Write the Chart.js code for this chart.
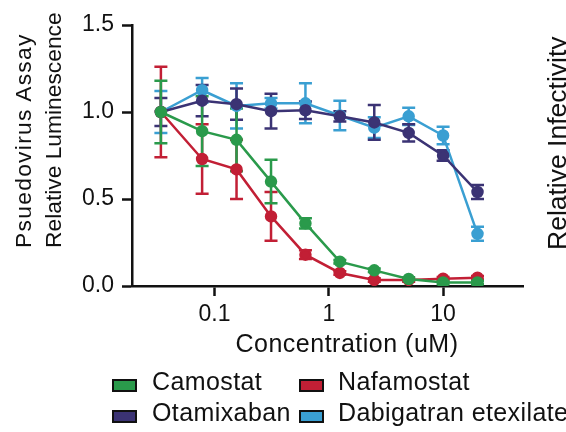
<!DOCTYPE html>
<html>
<head>
<meta charset="utf-8">
<script src="https://cdn.jsdelivr.net/npm/chart.js@4.4.0/dist/chart.umd.min.js"></script>
<style>
  html, body { margin: 0; padding: 0; background: #fff; overflow: hidden; }
  #wrap { position: relative; width: 566px; height: 432px; overflow: hidden; font-family: "Liberation Sans", Arial, sans-serif; color: #111; }
  #myChart { position: absolute; left: 0; top: 0; }
  .txt { position: absolute; white-space: nowrap; }
  .legText { font-size: 25px; line-height: 25px; letter-spacing: 0.4px; }
  .box { position: absolute; width: 25px; height: 13px; box-sizing: border-box; border: 2.5px solid #111; }
  .rot { transform-origin: 0 0; transform: rotate(-90deg); }
  #ytitle { left: 8px; top: 248px; font-size: 22.8px; line-height: 30px; }
  #ytitle .l1 { letter-spacing: 1.3px; }
  #xtitle { left: 347px; top: 328px; font-size: 25px; line-height: 30px; letter-spacing: 0.5px; transform: translateX(-50%); }
  #side { left: 542px; top: 250px; font-size: 26.5px; line-height: 30px; }
</style>
</head>
<body>
<div id="wrap">
  <canvas id="myChart" width="566" height="432"></canvas>
  <div id="ytitle" class="txt rot"><span class="l1">Psuedovirus Assay</span><br>Relative Luminescence</div>
  <div id="xtitle" class="txt">Concentration (uM)</div>
  <div id="side" class="txt rot">Relative Infectivity</div>
</div>
<script>
// concentrations in uM
var concentrations = [0.034, 0.078, 0.156, 0.3125, 0.625, 1.25, 2.5, 5, 10, 20];

var camostat      = [1.00, 0.89, 0.84, 0.60, 0.36, 0.14, 0.09, 0.04, 0.02, 0.02];
var camostatErr   = [0.18, 0.20, 0.18, 0.125, 0.03, 0.01, 0.01, 0.01, 0.01, 0.01];
var nafamostat    = [1.00, 0.73, 0.67, 0.40, 0.18, 0.075, 0.035, 0.035, 0.042, 0.048];
var nafamostatErr = [0.26, 0.20, 0.17, 0.14, 0.025, 0.01, 0.01, 0.01, 0.01, 0.01];
var otamixaban    = [1.00, 1.065, 1.045, 1.005, 1.01, 0.975, 0.94, 0.88, 0.75, 0.54];
var otamixabanErr = [0.08, 0.09, 0.09, 0.10, 0.05, 0.03, 0.10, 0.05, 0.03, 0.04];
var dabigatran    = [1.00, 1.125, 1.035, 1.05, 1.05, 0.98, 0.91, 0.975, 0.865, 0.30];
var dabigatranErr = [0.12, 0.07, 0.13, 0.03, 0.115, 0.085, 0.06, 0.05, 0.05, 0.04];

var xTicks = [0.1, 1, 10];
var yTicks = [0, 0.5, 1.0, 1.5];

var names  = ["Camostat", "Nafamostat", "Otamixaban", "Dabigatran etexilate"];
var colors = ["#2a9a4b", "#c21f35", "#3b3374", "#3a9fd2"];

function pts(vals) {
	var out = [];
	for (var i = 0; i < concentrations.length; i++) {
		out.push({ x: concentrations[i], y: vals[i] });
	}
	return out;
}

var seriesVals = [camostat, nafamostat, otamixaban, dabigatran];
var seriesErr  = [camostatErr, nafamostatErr, otamixabanErr, dabigatranErr];

var datasets = [];
for (var s = 0; s < names.length; s++) {
	datasets.push({
		label: names[s],
		data: pts(seriesVals[s]),
		errors: seriesErr[s],
		borderColor: colors[s],
		backgroundColor: colors[s],
		pointBackgroundColor: colors[s],
		pointBorderColor: colors[s],
		pointRadius: 5,
		borderWidth: 2.5,
		tension: 0
	});
}

// error bars, drawn behind the markers
var errorBars = {
	id: 'errorBars',
	beforeDatasetsDraw: function (chart) {
		var ctx = chart.ctx, xs = chart.scales.x, ys = chart.scales.y;
		ctx.save();
		for (var d = chart.data.datasets.length - 1; d >= 0; d--) {
			var ds = chart.data.datasets[d];
			ctx.strokeStyle = ds.borderColor;
			ctx.lineWidth = 2.5;
			for (var i = 0; i < ds.data.length; i++) {
				var e = ds.errors[i];
				var px = xs.getPixelForValue(ds.data[i].x);
				var top = ys.getPixelForValue(ds.data[i].y + e);
				var bot = ys.getPixelForValue(ds.data[i].y - e);
				ctx.beginPath();
				ctx.moveTo(px, top); ctx.lineTo(px, bot);
				ctx.moveTo(px - 6.5, top); ctx.lineTo(px + 6.5, top);
				ctx.moveTo(px - 6.5, bot); ctx.lineTo(px + 6.5, bot);
				ctx.stroke();
			}
		}
		ctx.restore();
	}
};

Chart.defaults.font.family = '"Liberation Sans", Arial, sans-serif';
Chart.defaults.color = '#111';

var canvas = document.getElementById('myChart').getContext('2d');
var myChart = new Chart(canvas, {
	type: 'line',
	data: { datasets: datasets },
	options: {
		responsive: false,
		animation: false,
		layout: { padding: { left: 0, right: 43, top: 25, bottom: 71 } },
		plugins: { legend: { display: false }, tooltip: { enabled: false } },
		scales: {
			x: {
				type: 'logarithmic',
				min: 0.019,
				max: 50,
				afterBuildTicks: function (scale) {
					scale.ticks = xTicks.map(function (v) { return { value: v }; });
				},
				afterFit: function (scale) { scale.height = 75; },
				ticks: {
					callback: function (v) { return String(v); },
					font: { size: 23 },
					color: '#111',
					padding: 5,
					maxRotation: 0,
					autoSkip: false
				},
				grid: {
					drawOnChartArea: false,
					drawTicks: true,
					tickLength: 10,
					tickWidth: 2.5,
					color: '#111'
				},
				border: { display: true, color: '#111', width: 2.5 }
			},
			y: {
				min: 0,
				max: 1.5,
				afterBuildTicks: function (scale) {
					scale.ticks = yTicks.map(function (v) { return { value: v }; });
				},
				afterFit: function (scale) { scale.width = 132; },
				ticks: {
					callback: function (v) { return v.toFixed(1); },
					font: { size: 23 },
					color: '#111',
					padding: 8
				},
				grid: {
					drawOnChartArea: false,
					drawTicks: true,
					tickLength: 10,
					tickWidth: 2.5,
					color: '#111'
				},
				border: { display: true, color: '#111', width: 2.5 }
			}
		}
	},
	plugins: [errorBars]
});

// legend below the plot, two columns
var boxPos  = [[112, 379], [299, 379], [112, 410], [299, 410]];
var textPos = [[152, 369], [338, 369], [152, 400], [338, 400]];
var wrap = document.getElementById('wrap');
for (var k = 0; k < names.length; k++) {
	var b = document.createElement('div');
	b.className = 'box';
	b.style.left = boxPos[k][0] + 'px';
	b.style.top = boxPos[k][1] + 'px';
	b.style.background = colors[k];
	wrap.appendChild(b);

	var t = document.createElement('div');
	t.className = 'txt legText';
	t.style.left = textPos[k][0] + 'px';
	t.style.top = textPos[k][1] + 'px';
	t.textContent = names[k];
	wrap.appendChild(t);
}
</script>
</body>
</html>
